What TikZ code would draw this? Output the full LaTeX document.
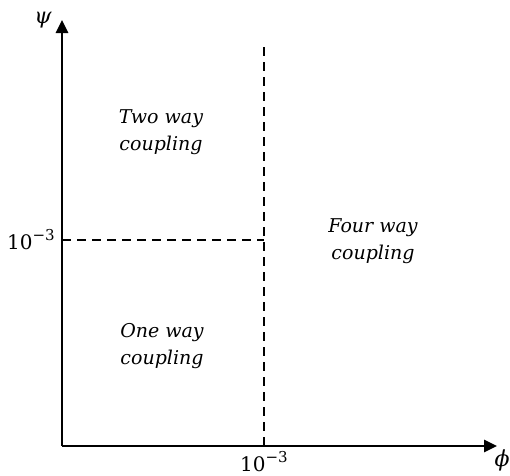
\documentclass[tikz,border=0pt]{standalone}
\usepackage{fontspec}
\setmainfont{DejaVu Serif}
\usetikzlibrary{arrows.meta}
\newcommand{\tenpow}{10\raisebox{0.45em}{\fontsize{15}{16}\selectfont −3}}
\begin{document}
\begin{tikzpicture}[x=1pt,y=-1pt,
  axis/.style={line width=2.8pt,-{Triangle[width=12pt,length=13pt]}},
  guide/.style={line width=2.3pt,dash pattern=on 9pt off 6pt},
  region/.style={font=\fontsize{19}{27}\selectfont\itshape,align=center},
  tick/.style={font=\fontsize{20}{22}\selectfont,inner sep=0pt},
  lab/.style={font=\fontsize{22}{26}\selectfont\itshape}]
\useasboundingbox (0,0) rectangle (510,475);
\coordinate (O) at (62,446);
\coordinate (ytop) at (62,20);
\coordinate (xend) at (497,446);
\coordinate (vtop) at (264,47);
\coordinate (vbot) at (264,446);
\coordinate (hl) at (62,240);
\coordinate (hr) at (264,240);
\draw[guide] (vtop) -- (vbot);
\draw[guide] (hl) -- (hr);
\draw[axis] (O) -- (ytop);
\draw[axis] (O) -- (xend);
\node[lab] (psi) at (43,20) {ψ};
\node[lab] (phi) at (502,460) {ϕ};
\node[tick] (ty) at (31,240) {\tenpow};
\node[tick,anchor=south] (tx) at (264,472) {\tenpow};
\node[region] (two) at (161,132) {Two way\\coupling};
\node[region] (one) at (162,346) {One way\\coupling};
\node[region] (four) at (373,241) {Four way\\coupling};
\end{tikzpicture}
\end{document}
